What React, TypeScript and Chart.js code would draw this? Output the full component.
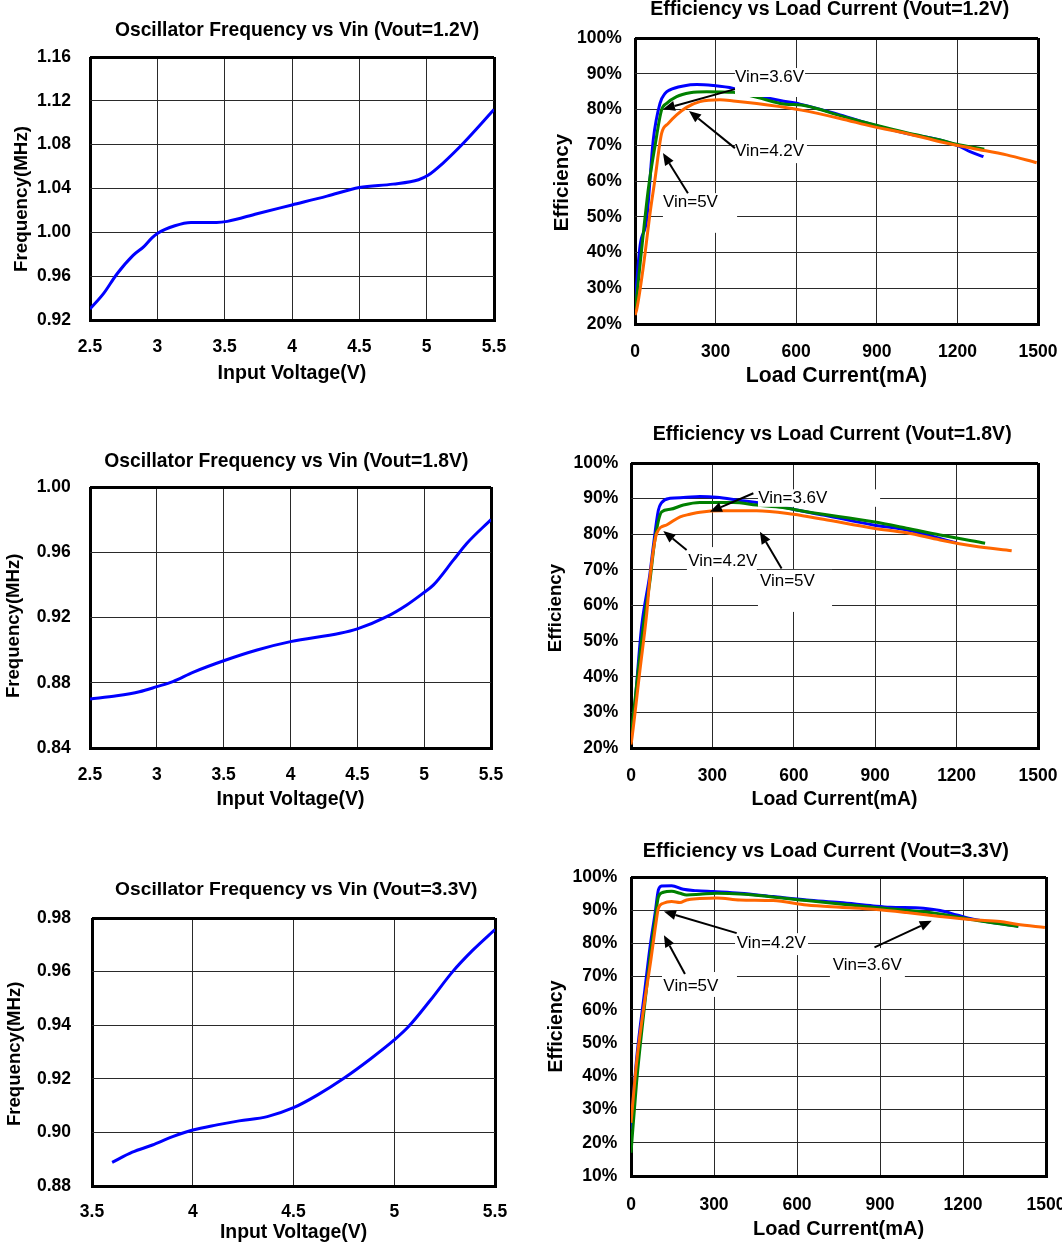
import React, { useEffect, useRef } from 'react';
import { Chart, registerables } from 'chart.js';

Chart.register(...registerables);

const FONT = "'Liberation Sans', Arial, Helvetica, sans-serif";

// ---------- tick labels ----------
const VIN_TICKS_WIDE = [2.5, 3, 3.5, 4, 4.5, 5, 5.5];
const VIN_TICKS_NARROW = [3.5, 4, 4.5, 5, 5.5];
const LOAD_TICKS = [0, 300, 600, 900, 1200, 1500];
const FREQ12_TICKS = [0.92, 0.96, 1.0, 1.04, 1.08, 1.12, 1.16];
const FREQ18_TICKS = [0.84, 0.88, 0.92, 0.96, 1.0];
const FREQ33_TICKS = [0.88, 0.9, 0.92, 0.94, 0.96, 0.98];
const EFF_TICKS_20 = [20, 30, 40, 50, 60, 70, 80, 90, 100];
const EFF_TICKS_10 = [10, 20, 30, 40, 50, 60, 70, 80, 90, 100];

// ---------- oscillator frequency data ----------
const VIN_12 = [2.5, 2.6, 2.7, 2.82, 2.9, 2.96, 3.0, 3.13, 3.25, 3.44, 3.52, 3.74, 4.0, 4.26, 4.5, 4.75, 4.94, 5.01, 5.12, 5.27, 5.5];
const FREQ_12 = [0.93, 0.944, 0.962, 0.979, 0.987, 0.995, 0.999, 1.006, 1.009, 1.009, 1.01, 1.017, 1.025, 1.033, 1.041, 1.044, 1.048, 1.052, 1.063, 1.081, 1.112];

const VIN_18 = [2.5, 2.7, 2.87, 3.0, 3.12, 3.27, 3.5, 3.75, 4.0, 4.37, 4.5, 4.72, 4.87, 4.99, 5.07, 5.22, 5.32, 5.5];
const FREQ_18 = [0.87, 0.872, 0.8745, 0.8776, 0.8807, 0.8864, 0.8935, 0.9001, 0.9052, 0.9103, 0.913, 0.9205, 0.9277, 0.9348, 0.94, 0.9553, 0.9655, 0.98];

const VIN_33 = [3.6, 3.7, 3.8, 3.9, 4.0, 4.12, 4.23, 4.37, 4.5, 4.62, 4.75, 4.88, 5.0, 5.07, 5.18, 5.29, 5.39, 5.5];
const FREQ_33 = [0.8888, 0.8926, 0.8953, 0.8984, 0.9009, 0.9028, 0.9043, 0.9059, 0.9092, 0.914, 0.9202, 0.9273, 0.9345, 0.9394, 0.9494, 0.96, 0.968, 0.9757];

// ---------- efficiency data, Vout = 1.2V ----------
const E12_I_36 = [0, 4, 19, 43, 68, 93, 112, 130, 180, 230, 291, 366, 450, 540, 614, 763, 887, 1011, 1135, 1210, 1247, 1297];
const E12_E_36 = [24, 29, 42, 49, 71.5, 81.7, 84.5, 85.5, 86.6, 87.0, 86.7, 85.9, 84.0, 82.5, 81.5, 78.5, 75.7, 73.3, 71.5, 69.6, 68.2, 66.8];
const E12_I_42 = [0, 31, 50, 74, 99, 118, 155, 205, 267, 366, 450, 540, 639, 763, 887, 1011, 1135, 1197, 1300];
const E12_E_42 = [23, 45.4, 58, 69.6, 79.9, 81.7, 83.6, 84.7, 85.0, 84.8, 83.5, 81.7, 81.0, 78.3, 75.8, 73.5, 71.5, 70.3, 68.9];
const E12_I_50 = [0, 6, 31, 56, 74, 99, 124, 155, 192, 242, 316, 366, 453, 540, 614, 763, 887, 1011, 1135, 1259, 1383, 1495];
const E12_E_50 = [22.5, 23.9, 36, 51, 60.3, 73.3, 76.1, 78.5, 80.6, 82.2, 82.7, 82.4, 81.7, 80.8, 79.9, 77.5, 75.2, 73.3, 71.0, 69.1, 67.3, 65.1];

// ---------- efficiency data, Vout = 1.8V ----------
const E18_I_36 = [0, 9, 39, 70, 82, 101, 113, 144, 193, 254, 316, 402, 463, 540, 610, 709, 893, 1016, 1200];
const E18_E_36 = [24, 28, 54, 69, 76.5, 86.8, 88.9, 90.1, 90.3, 90.6, 90.4, 89.5, 88.9, 88.0, 86.8, 85.4, 82.6, 81.2, 77.6];
const E18_I_42 = [0, 45, 70, 88, 113, 144, 193, 254, 377, 463, 560, 647, 893, 1016, 1139, 1305];
const E18_E_42 = [23, 54, 67, 78.4, 86.3, 87.0, 88.2, 88.9, 88.9, 88.2, 87.5, 86.3, 83.5, 81.7, 79.8, 77.5];
const E18_I_50 = [0, 2.5, 33, 58, 70, 95, 131, 181, 217, 254, 340, 463, 598, 709, 893, 1016, 1139, 1262, 1403];
const E18_E_50 = [21, 22.2, 41.9, 57.8, 68, 80.3, 82.6, 84.9, 85.6, 86.2, 86.6, 86.6, 85.6, 84.2, 81.7, 80.4, 78.4, 76.7, 75.4];

// ---------- efficiency data, Vout = 3.3V ----------
const E33_I_36 = [0, 20, 50, 69, 87, 99, 111, 147, 189, 237, 298, 394, 514, 635, 755, 876, 936, 1057, 1117, 1177, 1237, 1400];
const E33_E_36 = [24, 45, 66, 79, 89, 96.1, 97.3, 97.4, 96.3, 95.9, 95.6, 95.1, 94.1, 93.1, 92.3, 91.3, 90.9, 90.6, 89.9, 88.6, 87.3, 85.2];
const E33_I_42 = [0, 20, 50, 69, 87, 99, 117, 147, 177, 201, 249, 310, 394, 635, 876, 1117, 1237, 1400];
const E33_E_42 = [17, 38, 62, 76, 87.1, 94.0, 95.4, 95.7, 95.1, 94.6, 94.8, 95.1, 94.9, 92.9, 90.9, 88.9, 87.1, 85.1];
const E33_I_50 = [0, 20, 50, 70, 90, 99, 117, 147, 177, 201, 249, 310, 394, 514, 635, 755, 876, 996, 1117, 1237, 1334, 1394, 1496];
const E33_E_50 = [26, 44, 63, 74, 86, 90.6, 92.1, 92.6, 92.3, 93.1, 93.5, 93.7, 93.1, 92.9, 91.6, 90.9, 90.3, 89.3, 88.1, 87.1, 86.6, 85.8, 84.8];

// ---------- callouts (data coordinates: text anchor, white box, arrow from -> to) ----------
const E12_NOTES = [
  { text: 'Vin=3.6V', at: [372, 88.9], box: [372, 91.6, 633, 83.5], arrow: [372, 85.7, 104, 80.1] },
  { text: 'Vin=4.2V', at: [372, 68.2], box: [372, 71.5, 640, 65.0], arrow: [372, 69.2, 201, 79.6] },
  { text: 'Vin=5V', at: [104, 53.9], box: [104, 56.6, 380, 45.5], arrow: [197, 56.6, 104, 67.8] },
];
const E18_NOTES = [
  { text: 'Vin=3.6V', at: [469, 90.1], box: [468, 92.6, 918, 87.7], arrow: [451, 91.5, 291, 86.3] },
  { text: 'Vin=4.2V', at: [211, 72.3], box: [206, 76.4, 464, 68.0], arrow: [205, 75.6, 119, 80.9] },
  { text: 'Vin=5V', at: [475, 66.7], box: [468, 70.0, 741, 58.2], arrow: [555, 70.4, 475, 80.7] },
];
const E33_NOTES = [
  { text: 'Vin=4.2V', at: [382, 80.0], box: [376, 83.1, 640, 76.5], arrow: [382, 83.1, 119, 89.6] },
  { text: 'Vin=5V', at: [117, 67.2], box: [112, 71.4, 383, 63.9], arrow: [195, 70.8, 119, 82.5] },
  { text: 'Vin=3.6V', at: [729, 73.5], box: [719, 78.6, 990, 69.9], arrow: [880, 78.8, 1087, 86.8] },
];

const BLUE = '#0000ff';
const GREEN = '#008000';
const ORANGE = '#ff6600';

function series(label: string, xs: number[], ys: number[], color: string, order: number) {
  return {
    label,
    data: xs.map((x, i) => ({ x, y: ys[i] })),
    borderColor: color,
    backgroundColor: color,
    borderWidth: 3,
    pointRadius: 0,
    pointHoverRadius: 0,
    cubicInterpolationMode: 'monotone',
    fill: false,
    order,
  };
}

const fmtFreq = (v: any) => Number(v).toFixed(2);
const fmtPct = (v: any) => `${Math.round(Number(v))}%`;
const fmtPlain = (v: any) => `${+Number(v).toFixed(2)}`;

const SPECS: any[] = [
  {
    canvas: { x: 0, y: 0, w: 580, h: 392 },
    plot: { L: 90, T: 57, R: 494, B: 320 }, scaleLeft: 32, yTitleShift: 10.5,
    title: 'Oscillator Frequency vs Vin (Vout=1.2V)', titleX: 297, titleY: 30.7, titleSize: 19.3,
    yTitle: 'Frequency(MHz)', yTitleX: 22.2, yTitleSize: 18.8,
    xTitle: 'Input Voltage(V)', xTitleY: 373.8, xTitleSize: 19.6,
    yTickRight: 71, xTickY: 347.5, tickSize: 17.5,
    xTicks: VIN_TICKS_WIDE, yTicks: FREQ12_TICKS, xFmt: fmtPlain, yFmt: fmtFreq,
    datasets: [series('Frequency', VIN_12, FREQ_12, BLUE, 0)],
    notes: [],
  },
  {
    canvas: { x: 531, y: 0, w: 580, h: 392 },
    plot: { L: 635, T: 38, R: 1038, B: 324 }, scaleLeft: 572, yTitleShift: 1.5,
    title: 'Efficiency vs Load Current (Vout=1.2V)', titleX: 829.7, titleY: 9.3, titleSize: 19.5,
    yTitle: 'Efficiency', yTitleX: 562.2, yTitleSize: 20.6,
    xTitle: 'Load Current(mA)', xTitleY: 376.3, xTitleSize: 21.2,
    yTickRight: 621.7, xTickY: 351.7, tickSize: 17.5,
    xTicks: LOAD_TICKS, yTicks: EFF_TICKS_20, xFmt: fmtPlain, yFmt: fmtPct,
    datasets: [
      series('Vin=3.6V', E12_I_36, E12_E_36, BLUE, 2),
      series('Vin=4.2V', E12_I_42, E12_E_42, GREEN, 1),
      series('Vin=5V', E12_I_50, E12_E_50, ORANGE, 0),
    ],
    notes: E12_NOTES,
  },
  {
    canvas: { x: 0, y: 400, w: 580, h: 418 },
    plot: { L: 90, T: 487, R: 491, B: 748 }, scaleLeft: 32, yTitleShift: 8.3,
    title: 'Oscillator Frequency vs Vin (Vout=1.8V)', titleX: 286.3, titleY: 461.7, titleSize: 19.3,
    yTitle: 'Frequency(MHz)', yTitleX: 14.2, yTitleSize: 18.6,
    xTitle: 'Input Voltage(V)', xTitleY: 800, xTitleSize: 19.5,
    yTickRight: 70.7, xTickY: 775.5, tickSize: 17.5,
    xTicks: VIN_TICKS_WIDE, yTicks: FREQ18_TICKS, xFmt: fmtPlain, yFmt: fmtFreq,
    datasets: [series('Frequency', VIN_18, FREQ_18, BLUE, 0)],
    notes: [],
  },
  {
    canvas: { x: 531, y: 400, w: 580, h: 418 },
    plot: { L: 631, T: 463, R: 1038, B: 748 }, scaleLeft: 568, yTitleShift: 2.5,
    title: 'Efficiency vs Load Current (Vout=1.8V)', titleX: 832.2, titleY: 434.3, titleSize: 19.5,
    yTitle: 'Efficiency', yTitleX: 555.5, yTitleSize: 18.7,
    xTitle: 'Load Current(mA)', xTitleY: 800, xTitleSize: 19.4,
    yTickRight: 618.3, xTickY: 776.2, tickSize: 17.5,
    xTicks: LOAD_TICKS, yTicks: EFF_TICKS_20, xFmt: fmtPlain, yFmt: fmtPct,
    datasets: [
      series('Vin=3.6V', E18_I_36, E18_E_36, BLUE, 2),
      series('Vin=4.2V', E18_I_42, E18_E_42, GREEN, 1),
      series('Vin=5V', E18_I_50, E18_E_50, ORANGE, 0),
    ],
    notes: E18_NOTES,
  },
  {
    canvas: { x: 0, y: 820, w: 580, h: 426 },
    plot: { L: 92, T: 918, R: 495, B: 1186 }, scaleLeft: 32, yTitleShift: 1.8,
    title: 'Oscillator Frequency vs Vin (Vout=3.3V)', titleX: 296.3, titleY: 890, titleSize: 19.2,
    yTitle: 'Frequency(MHz)', yTitleX: 14.5, yTitleSize: 18.6,
    xTitle: 'Input Voltage(V)', xTitleY: 1232.3, xTitleSize: 19.4,
    yTickRight: 71, xTickY: 1212, tickSize: 17.5,
    xTicks: VIN_TICKS_NARROW, yTicks: FREQ33_TICKS, xFmt: fmtPlain, yFmt: fmtFreq,
    datasets: [series('Frequency', VIN_33, FREQ_33, BLUE, 0)],
    notes: [],
  },
  {
    canvas: { x: 531, y: 820, w: 580, h: 426 },
    plot: { L: 631, T: 877, R: 1046, B: 1176 }, scaleLeft: 565, yTitleShift: 0,
    title: 'Efficiency vs Load Current (Vout=3.3V)', titleX: 825.8, titleY: 851.2, titleSize: 19.9,
    yTitle: 'Efficiency', yTitleX: 556.3, yTitleSize: 19.5,
    xTitle: 'Load Current(mA)', xTitleY: 1229.3, xTitleSize: 20,
    yTickRight: 617.3, xTickY: 1205, tickSize: 17.5,
    xTicks: LOAD_TICKS, yTicks: EFF_TICKS_10, xFmt: fmtPlain, yFmt: fmtPct,
    datasets: [
      series('Vin=3.6V', E33_I_36, E33_E_36, BLUE, 2),
      series('Vin=4.2V', E33_I_42, E33_E_42, GREEN, 1),
      series('Vin=5V', E33_I_50, E33_E_50, ORANGE, 0),
    ],
    notes: E33_NOTES,
  },
];

function makeNotesPlugin(notes: any[]) {
  return {
    id: 'callouts',
    afterDatasetsDraw(chart: any) {
      if (!notes || !notes.length) return;
      const { ctx } = chart;
      const xs = chart.scales.x;
      const ys = chart.scales.y;
      const px = (v: number) => xs.getPixelForValue(v);
      const py = (v: number) => ys.getPixelForValue(v);
      ctx.save();
      ctx.fillStyle = '#ffffff';
      for (const n of notes) {
        const x1 = px(n.box[0]);
        const y1 = py(n.box[1]);
        const x2 = px(n.box[2]);
        const y2 = py(n.box[3]);
        ctx.fillRect(Math.min(x1, x2), Math.min(y1, y2), Math.abs(x2 - x1), Math.abs(y2 - y1));
      }
      for (const n of notes) {
        ctx.fillStyle = '#000000';
        ctx.font = `17px ${FONT}`;
        ctx.textAlign = 'left';
        ctx.textBaseline = 'middle';
        ctx.fillText(n.text, px(n.at[0]), py(n.at[1]));
        const ax = px(n.arrow[0]);
        const ay = py(n.arrow[1]);
        const bx = px(n.arrow[2]);
        const by = py(n.arrow[3]);
        const ang = Math.atan2(by - ay, bx - ax);
        const head = 12;
        const half = 5;
        const hx = bx - head * Math.cos(ang);
        const hy = by - head * Math.sin(ang);
        ctx.strokeStyle = '#000000';
        ctx.lineWidth = 2;
        ctx.beginPath();
        ctx.moveTo(ax, ay);
        ctx.lineTo(hx, hy);
        ctx.stroke();
        ctx.beginPath();
        ctx.moveTo(bx, by);
        ctx.lineTo(hx + half * Math.sin(ang), hy - half * Math.cos(ang));
        ctx.lineTo(hx - half * Math.sin(ang), hy + half * Math.cos(ang));
        ctx.closePath();
        ctx.fill();
      }
      ctx.restore();
    },
  };
}

// moves only the y-axis title box (tick pixels are already configured)
function makeTitleShiftPlugin(shift: number) {
  return {
    id: 'yTitleShift',
    afterLayout(chart: any) {
      if (!shift) return;
      const y = chart.scales.y;
      y.top += shift;
      y.bottom += shift;
    },
  };
}

function gridStyle(ticks: number[]) {
  const lo = ticks[0];
  const hi = ticks[ticks.length - 1];
  const isEdge = (c: any) =>
    !!c.tick && (Math.abs(c.tick.value - lo) < 1e-9 || Math.abs(c.tick.value - hi) < 1e-9);
  return {
    display: true,
    drawTicks: false,
    drawOnChartArea: true,
    color: (c: any) => (isEdge(c) ? '#000000' : '#2a2a2a'),
    lineWidth: (c: any) => (isEdge(c) ? 3 : 1),
  };
}

function buildConfig(s: any): any {
  const c = s.canvas;
  const p = s.plot;
  const A = s.scaleLeft;
  const titleRight = 2 * s.titleX - A;
  const padL = A - c.x;
  const padR = Math.max(0, c.x + c.w - titleRight);
  const rightInset = c.x + c.w - p.R;
  const yWidth = p.L - A;
  const xHeight = c.y + c.h - p.B;
  const tPadTop = s.titleY - c.y - s.titleSize / 2;
  const tPadBottom = p.T - c.y - tPadTop - s.titleSize;
  const yTitlePad = s.yTitleX - A - s.yTitleSize / 2;
  const yTickPad = p.L - s.yTickRight;
  const xTickPad = s.xTickY - p.B - s.tickSize / 2;
  const xTitlePad = c.y + c.h - s.xTitleY - s.xTitleSize / 2;

  const tickFont = { family: FONT, size: s.tickSize, weight: 'bold', lineHeight: 1 };

  return {
    type: 'line',
    data: { datasets: s.datasets },
    plugins: [makeTitleShiftPlugin(s.yTitleShift), makeNotesPlugin(s.notes)],
    options: {
      responsive: false,
      maintainAspectRatio: false,
      animation: false,
      events: [],
      layout: { autoPadding: false, padding: { left: padL, right: padR, top: 0, bottom: 0 } },
      plugins: {
        legend: { display: false },
        tooltip: { enabled: false },
        title: {
          display: true,
          text: s.title,
          color: '#000000',
          align: 'center',
          fullSize: true,
          font: { family: FONT, size: s.titleSize, weight: 'bold', lineHeight: 1 },
          padding: { top: tPadTop, bottom: tPadBottom },
        },
      },
      scales: {
        x: {
          type: 'linear',
          position: 'bottom',
          min: s.xTicks[0],
          max: s.xTicks[s.xTicks.length - 1],
          afterBuildTicks: (scale: any) => {
            scale.ticks = s.xTicks.map((value: number) => ({ value }));
          },
          afterFit: (scale: any) => {
            scale.height = xHeight;
            scale.paddingLeft = 0;
            scale.paddingRight = rightInset;
            scale.paddingTop = 0;
            scale.paddingBottom = 0;
          },
          ticks: {
            color: '#000000',
            font: tickFont,
            padding: xTickPad,
            autoSkip: false,
            maxRotation: 0,
            minRotation: 0,
            callback: (v: any) => s.xFmt(v),
          },
          grid: gridStyle(s.xTicks),
          border: { display: true, color: '#000000', width: 3 },
          title: {
            display: true,
            text: s.xTitle,
            color: '#000000',
            font: { family: FONT, size: s.xTitleSize, weight: 'bold', lineHeight: 1 },
            padding: { top: 0, bottom: xTitlePad },
          },
        },
        y: {
          type: 'linear',
          position: 'left',
          min: s.yTicks[0],
          max: s.yTicks[s.yTicks.length - 1],
          afterBuildTicks: (scale: any) => {
            scale.ticks = s.yTicks.map((value: number) => ({ value }));
          },
          afterFit: (scale: any) => {
            scale.width = yWidth;
            scale.paddingTop = 0;
            scale.paddingBottom = 0;
            scale.paddingLeft = 0;
            scale.paddingRight = 0;
          },
          ticks: {
            color: '#000000',
            font: tickFont,
            padding: yTickPad,
            autoSkip: false,
            callback: (v: any) => s.yFmt(v),
          },
          grid: gridStyle(s.yTicks),
          border: { display: false },
          title: {
            display: true,
            text: s.yTitle,
            color: '#000000',
            font: { family: FONT, size: s.yTitleSize, weight: 'bold', lineHeight: 1 },
            padding: { top: yTitlePad, bottom: 0 },
          },
        },
      },
    },
  };
}

function ChartCanvas({ spec }: { spec: any }) {
  const ref = useRef<HTMLCanvasElement | null>(null);
  useEffect(() => {
    if (!ref.current) return;
    const chart = new Chart(ref.current, buildConfig(spec));
    return () => chart.destroy();
  }, [spec]);
  const c = spec.canvas;
  return (
    <canvas
      ref={ref}
      width={c.w}
      height={c.h}
      style={{ position: 'absolute', left: c.x, top: c.y, width: c.w, height: c.h, display: 'block' }}
    />
  );
}

export default function App() {
  return (
    <div
      style={{
        position: 'absolute',
        left: 0,
        top: 0,
        width: 1062,
        height: 1246,
        overflow: 'hidden',
        background: '#ffffff',
      }}
    >
      {SPECS.map((s, i) => (
        <ChartCanvas key={i} spec={s} />
      ))}
    </div>
  );
}
